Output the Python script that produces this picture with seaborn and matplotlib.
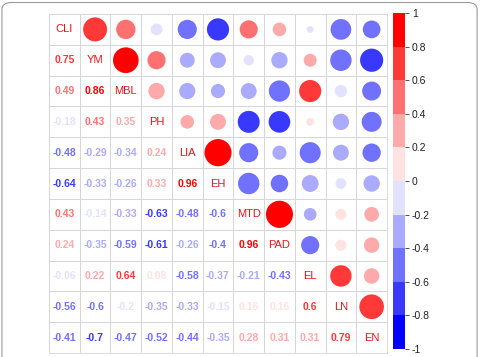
import numpy as np
import pandas as pd
import matplotlib
matplotlib.use("Agg")
import matplotlib.pyplot as plt
import seaborn as sns
from matplotlib.colors import ListedColormap, BoundaryNorm
from matplotlib.patches import Circle, FancyBboxPatch
import matplotlib as mpl

labels = ["CLI", "YM", "MBL", "PH", "LIA", "EH", "MTD", "PAD", "EL", "LN", "EN"]

row_YM = [0.75]
row_MBL = [0.49, 0.86]
row_PH = [-0.18, 0.43, 0.35]
row_LIA = [-0.48, -0.29, -0.34, 0.24]
row_EH = [-0.64, -0.33, -0.26, 0.33, 0.96]
row_MTD = [0.43, -0.14, -0.33, -0.63, -0.48, -0.6]
row_PAD = [0.24, -0.35, -0.59, -0.61, -0.26, -0.4, 0.96]
row_EL = [-0.06, 0.22, 0.64, 0.08, -0.58, -0.37, -0.21, -0.43]
row_LN = [-0.56, -0.6, -0.2, -0.35, -0.33, -0.15, 0.16, 0.16, 0.6]
row_EN = [-0.41, -0.7, -0.47, -0.52, -0.44, -0.35, 0.28, 0.31, 0.31, 0.79]
lower_rows = [row_YM, row_MBL, row_PH, row_LIA, row_EH, row_MTD, row_PAD, row_EL, row_LN, row_EN]

palette = ["#0000FF", "#3838FF", "#7171FF", "#AAAAFF", "#E2E2FF",
           "#FFE2E2", "#FFAAAA", "#FF7171", "#FF3838", "#FF0000"]
cbar_ticks = [-1, -0.8, -0.6, -0.4, -0.2, 0, 0.2, 0.4, 0.6, 0.8, 1]
cbar_ticklabels = ["-1", "-0.8", "-0.6", "-0.4", "-0.2", "0", "0.2", "0.4", "0.6", "0.8", "1"]

n = len(labels)
corr = np.eye(n)
for i, row in enumerate(lower_rows, start=1):
    for j, v in enumerate(row):
        corr[i, j] = v
        corr[j, i] = v
df = pd.DataFrame(corr, index=labels, columns=labels)

cmap = ListedColormap(palette)
norm = BoundaryNorm(np.linspace(-1, 1, 11), cmap.N)

def col_for(v):
    idx = int(np.clip(np.floor((v + 1) / 0.2), 0, 9))
    return palette[idx]

sns.set_style("white")
plt.rcParams["font.family"] = ["Liberation Sans", "DejaVu Sans"]

fig = plt.figure(figsize=(4.8, 3.57), dpi=100)
ax = fig.add_axes([49 / 480, 4 / 357, 338 / 480, 339 / 357])

sns.heatmap(np.zeros((n, n)), ax=ax, cmap=ListedColormap(["white"]), cbar=False,
            linewidths=0.55, linecolor="#D6D6D6", xticklabels=False, yticklabels=False)
for s in ax.spines.values():
    s.set_visible(True)
    s.set_color("#D6D6D6")
    s.set_linewidth(0.6)

for i in range(n):
    for j in range(n):
        v = df.iloc[i, j]
        cx, cy = j + 0.5, i + 0.5
        if i == j:
            ax.text(cx, cy, labels[i], ha="center", va="center", color="#E8141B",
                    fontsize=8)
        elif i > j:
            txt = ("%.2f" % v).rstrip("0").rstrip(".")
            ax.text(cx, cy, txt, ha="center", va="center", color=col_for(v),
                    fontsize=7.5, fontweight="bold")
        else:
            r = 0.45 * np.sqrt(abs(v))
            ax.add_patch(Circle((cx, cy), r, facecolor=col_for(v), edgecolor="none"))

ax.set_xlim(0, n)
ax.set_ylim(n, 0)

cax = fig.add_axes([393 / 480, 8 / 357, 12 / 480, 336 / 357])
cb = mpl.colorbar.ColorbarBase(cax, cmap=cmap, norm=norm, ticks=cbar_ticks,
                               boundaries=np.linspace(-1, 1, 11), orientation="vertical")
cb.set_ticklabels(cbar_ticklabels)
cb.outline.set_visible(False)
cax.tick_params(axis="y", length=3, width=0.6, color="#333333", labelsize=7.5,
                labelcolor="#222222", pad=2)

frame = FancyBboxPatch((0.004, -0.1), 0.99, 1.093, boxstyle="round,pad=0,rounding_size=0.02",
                       transform=fig.transFigure, facecolor="none", edgecolor="#9A9A9A",
                       linewidth=0.8, clip_on=False)
fig.patches.append(frame)

fig.savefig("out.png", dpi=100)
